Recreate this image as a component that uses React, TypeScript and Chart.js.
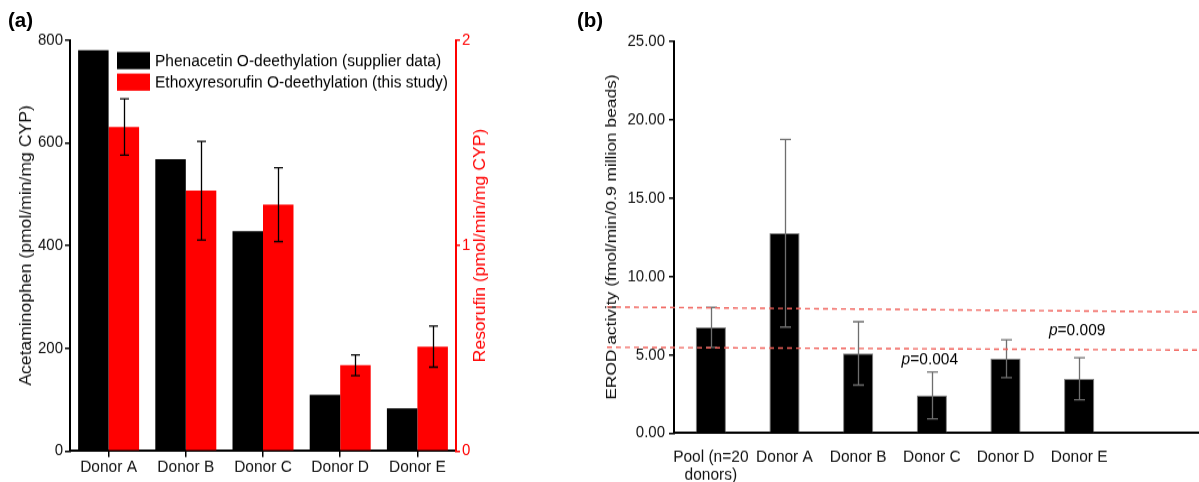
import React, { useEffect, useRef } from 'react';
import { Chart, registerables } from 'chart.js';

Chart.register(...registerables);

const FONT = '"Liberation Sans", Arial, Helvetica, sans-serif';
// the figure's text is slightly taller than wide: render at reduced height and stretch vertically
const CANVAS_H = 430;
const SCREEN_H = 482;

// ---------- Panel (a) data ----------
const donorsA = ['Donor A', 'Donor B', 'Donor C', 'Donor D', 'Donor E'];
const phenacetin = [780, 568, 428, 109, 83];
const ethoxy = [1.577, 1.267, 1.199, 0.417, 0.508];
const ethoxyErr = [0.137, 0.24, 0.18, 0.05, 0.1];
const seriesLabelsA = [
  'Phenacetin O-deethylation (supplier data)',
  'Ethoxyresorufin O-deethylation (this study)',
];
const leftTitleA = 'Acetaminophen (pmol/min/mg CYP)';
const rightTitleA = 'Resorufin (pmol/min/mg CYP)';
const leftRangeA = [0, 800, 200];
const rightRangeA = [0, 2, 1];

// ---------- Panel (b) data ----------
const categoriesB: (string | string[])[] = [
  ['Pool (n=20', 'donors)'],
  'Donor A',
  'Donor B',
  'Donor C',
  'Donor D',
  'Donor E',
];
const erod = [6.74, 12.74, 5.08, 2.4, 4.74, 3.46];
const erodErr = [1.27, 5.98, 2.02, 1.49, 1.21, 1.34];
const titleB = 'EROD activity (fmol/min/0.9 million beads)';
const rangeB = [0, 25, 5];
const refLineUpper = [8.04, 7.72];
const refLineLower = [5.47, 5.29];
const pLabels = [
  { index: 3, value: 4.72, text: '=0.004' },
  { index: 5, value: 6.57, text: '=0.009' },
];

function errorBarPlugin(dsIndex: number, errs: number[], color: string, cap: number, lw: number) {
  return {
    id: 'errorBars' + dsIndex,
    afterDatasetsDraw(chart: any) {
      const meta = chart.getDatasetMeta(dsIndex);
      const yScale = chart.scales[meta.yAxisID];
      const ctx = chart.ctx;
      const data = chart.data.datasets[dsIndex].data;
      ctx.save();
      ctx.strokeStyle = color;
      ctx.lineWidth = lw;
      meta.data.forEach((bar: any, i: number) => {
        const v = data[i];
        const yt = yScale.getPixelForValue(v + errs[i]);
        const yb = yScale.getPixelForValue(v - errs[i]);
        const x = Math.round(bar.x) + 0.5;
        ctx.beginPath();
        ctx.moveTo(x, yt);
        ctx.lineTo(x, yb);
        ctx.moveTo(x - cap, yt);
        ctx.lineTo(x + cap, yt);
        ctx.moveTo(x - cap, yb);
        ctx.lineTo(x + cap, yb);
        ctx.stroke();
      });
      ctx.restore();
    },
  };
}

const legendPluginA = {
  id: 'legendA',
  afterDraw(chart: any) {
    const ctx = chart.ctx;
    const { left, top } = chart.chartArea;
    ctx.save();
    ctx.font = `15.5px ${FONT}`;
    ctx.textBaseline = 'middle';
    ctx.textAlign = 'left';
    chart.data.datasets.forEach((ds: any, i: number) => {
      const y = top + 10.7 + i * 19.2;
      ctx.fillStyle = ds.backgroundColor;
      ctx.fillRect(left + 47, y, 33, 15.3);
      ctx.fillStyle = '#000';
      ctx.fillText(ds.label, left + 85, y + 8);
    });
    ctx.restore();
  },
};

const rightTitlePluginA = {
  id: 'rightTitleA',
  afterDraw(chart: any) {
    const ctx = chart.ctx;
    const s = chart.scales.y1;
    const { top, bottom } = chart.chartArea;
    ctx.save();
    ctx.translate(s.right - 19, (top + bottom) / 2);
    ctx.rotate(-Math.PI / 2);
    ctx.font = `15.7px ${FONT}`;
    ctx.fillStyle = '#ff0000';
    ctx.textAlign = 'center';
    ctx.textBaseline = 'middle';
    ctx.fillText(rightTitleA, 0, 0);
    ctx.restore();
  },
};

const extrasPluginB = {
  id: 'extrasB',
  afterDraw(chart: any) {
    const ctx = chart.ctx;
    const { right, bottom } = chart.chartArea;
    const yS = chart.scales.y;
    const xS = chart.scales.x;
    const W = chart.width;
    ctx.save();
    // x-axis line continues to the right edge (same alignment as the axis border)
    const by = Math.round(bottom - 1) + 1;
    ctx.strokeStyle = '#000';
    ctx.lineWidth = 2;
    ctx.beginPath();
    ctx.moveTo(right - 2, by);
    ctx.lineTo(W, by);
    ctx.stroke();
    // reference dashed lines
    ctx.strokeStyle = '#f0605a';
    ctx.lineWidth = 1.4;
    ctx.setLineDash([5, 4]);
    const x0 = 47;
    [refLineUpper, refLineLower].forEach((ln) => {
      ctx.beginPath();
      ctx.moveTo(x0, yS.getPixelForValue(ln[0]));
      ctx.lineTo(W, yS.getPixelForValue(ln[1]));
      ctx.stroke();
    });
    ctx.setLineDash([]);
    // p-value labels
    ctx.fillStyle = '#000';
    ctx.textBaseline = 'middle';
    ctx.textAlign = 'left';
    pLabels.forEach((p) => {
      const cx = xS.getPixelForValue(p.index);
      const cy = yS.getPixelForValue(p.value);
      ctx.font = `italic 15.5px ${FONT}`;
      const wp = ctx.measureText('p').width;
      ctx.font = `15.5px ${FONT}`;
      const wt = ctx.measureText(p.text).width;
      const sx = cx - (wp + wt) / 2 - 2;
      ctx.font = `italic 15.5px ${FONT}`;
      ctx.fillText('p', sx, cy);
      ctx.font = `15.5px ${FONT}`;
      ctx.fillText(p.text, sx + wp, cy);
    });
    ctx.restore();
  },
};

function PanelA() {
  const ref = useRef<HTMLCanvasElement>(null);
  useEffect(() => {
    if (!ref.current) return;
    const chart = new Chart(ref.current, {
      type: 'bar',
      data: {
        labels: donorsA,
        datasets: [
          {
            label: seriesLabelsA[0],
            data: phenacetin,
            backgroundColor: '#000000',
            yAxisID: 'y',
            categoryPercentage: 0.79,
            barPercentage: 1,
          },
          {
            label: seriesLabelsA[1],
            data: ethoxy,
            backgroundColor: '#ff0000',
            yAxisID: 'y1',
            categoryPercentage: 0.79,
            barPercentage: 1,
          },
        ],
      },
      options: {
        animation: false,
        responsive: false,
        devicePixelRatio: 1,
        layout: { padding: { top: 35.7, left: 0, right: 0, bottom: 0 } },
        plugins: { legend: { display: false }, tooltip: { enabled: false } },
        scales: {
          x: {
            afterFit: (s: any) => { s.height = 27.7; },
            grid: { display: true, drawOnChartArea: false, drawTicks: true, tickLength: 5.5, offset: false, color: '#000', lineWidth: 1.5 },
            border: { display: true, color: '#000', width: 2 },
            ticks: { color: '#111', font: { family: FONT, size: 15.5 }, padding: 0 },
          },
          y: {
            position: 'left',
            min: leftRangeA[0],
            max: leftRangeA[1],
            afterFit: (s: any) => { s.width = 70; },
            grid: { display: true, drawOnChartArea: false, drawTicks: true, tickLength: 5, color: '#000', lineWidth: 1.5 },
            border: { display: true, color: '#000', width: 2 },
            ticks: { stepSize: leftRangeA[2], color: '#111', font: { family: FONT, size: 15 }, padding: 2 },
            title: { display: true, text: leftTitleA, color: '#111', font: { family: FONT, size: 15.7 }, padding: { top: 17, bottom: 0 } },
          },
          y1: {
            position: 'right',
            min: rightRangeA[0],
            max: rightRangeA[1],
            afterFit: (s: any) => { s.width = 44; },
            grid: { display: true, drawOnChartArea: false, drawTicks: true, tickLength: 4, color: '#ff0000', lineWidth: 1.5 },
            border: { display: true, color: '#ff0000', width: 2 },
            ticks: { stepSize: rightRangeA[2], color: '#ff0000', font: { family: FONT, size: 15 }, padding: 2 },
          },
        },
      } as any,
      plugins: [errorBarPlugin(1, ethoxyErr, '#000', 4.5, 1.3), legendPluginA, rightTitlePluginA],
    });
    return () => chart.destroy();
  }, []);
  return (
    <canvas
      ref={ref}
      width={500}
      height={CANVAS_H}
      style={{ position: 'absolute', left: 0, top: 0, width: 500, height: SCREEN_H }}
    />
  );
}

function PanelB() {
  const ref = useRef<HTMLCanvasElement>(null);
  useEffect(() => {
    if (!ref.current) return;
    const chart = new Chart(ref.current, {
      type: 'bar',
      data: {
        labels: categoriesB,
        datasets: [
          {
            label: 'EROD activity',
            data: erod,
            backgroundColor: '#000000',
            borderColor: '#808080',
            borderWidth: 1,
            categoryPercentage: 0.41,
            barPercentage: 1,
          },
        ],
      },
      options: {
        animation: false,
        responsive: false,
        devicePixelRatio: 1,
        layout: { padding: { top: 36.6, left: 0, right: 83, bottom: 0 } },
        plugins: { legend: { display: false }, tooltip: { enabled: false } },
        scales: {
          x: {
            afterFit: (s: any) => { s.height = 43.7; },
            grid: { display: false, drawTicks: false },
            border: { display: true, color: '#000', width: 2 },
            ticks: { color: '#111', font: { family: FONT, size: 15.5, lineHeight: 1.0 }, padding: 14, maxRotation: 0, autoSkip: false },
          },
          y: {
            min: rangeB[0],
            max: rangeB[1],
            afterFit: (s: any) => { s.width = 114; },
            grid: { display: true, drawOnChartArea: false, drawTicks: true, tickLength: 5, color: '#000', lineWidth: 1.5 },
            border: { display: true, color: '#000', width: 2 },
            ticks: {
              stepSize: rangeB[2],
              color: '#111',
              font: { family: FONT, size: 15 },
              padding: 4,
              callback: (v: any) => Number(v).toFixed(2),
            },
            title: { display: true, text: titleB, color: '#111', font: { family: FONT, size: 15.5 }, padding: { top: 42, bottom: 0 } },
          },
        },
      } as any,
      plugins: [errorBarPlugin(0, erodErr, '#6e6e6e', 5.5, 1.3), extrasPluginB],
    });
    return () => chart.destroy();
  }, []);
  return (
    <canvas
      ref={ref}
      width={639}
      height={CANVAS_H}
      style={{ position: 'absolute', left: 560, top: 0, width: 639, height: SCREEN_H }}
    />
  );
}

export default function App() {
  const labelStyle: React.CSSProperties = {
    position: 'absolute',
    top: 8,
    fontWeight: 'bold',
    fontSize: 20.5,
    color: '#000',
    lineHeight: 1.15,
  };
  return (
    <div style={{ position: 'absolute', left: 0, top: 0, width: 1199, height: 482, background: '#fff', overflow: 'hidden', fontFamily: FONT }}>
      <PanelA />
      <PanelB />
      <div style={{ ...labelStyle, left: 8 }}>(a)</div>
      <div style={{ ...labelStyle, left: 577 }}>(b)</div>
    </div>
  );
}
